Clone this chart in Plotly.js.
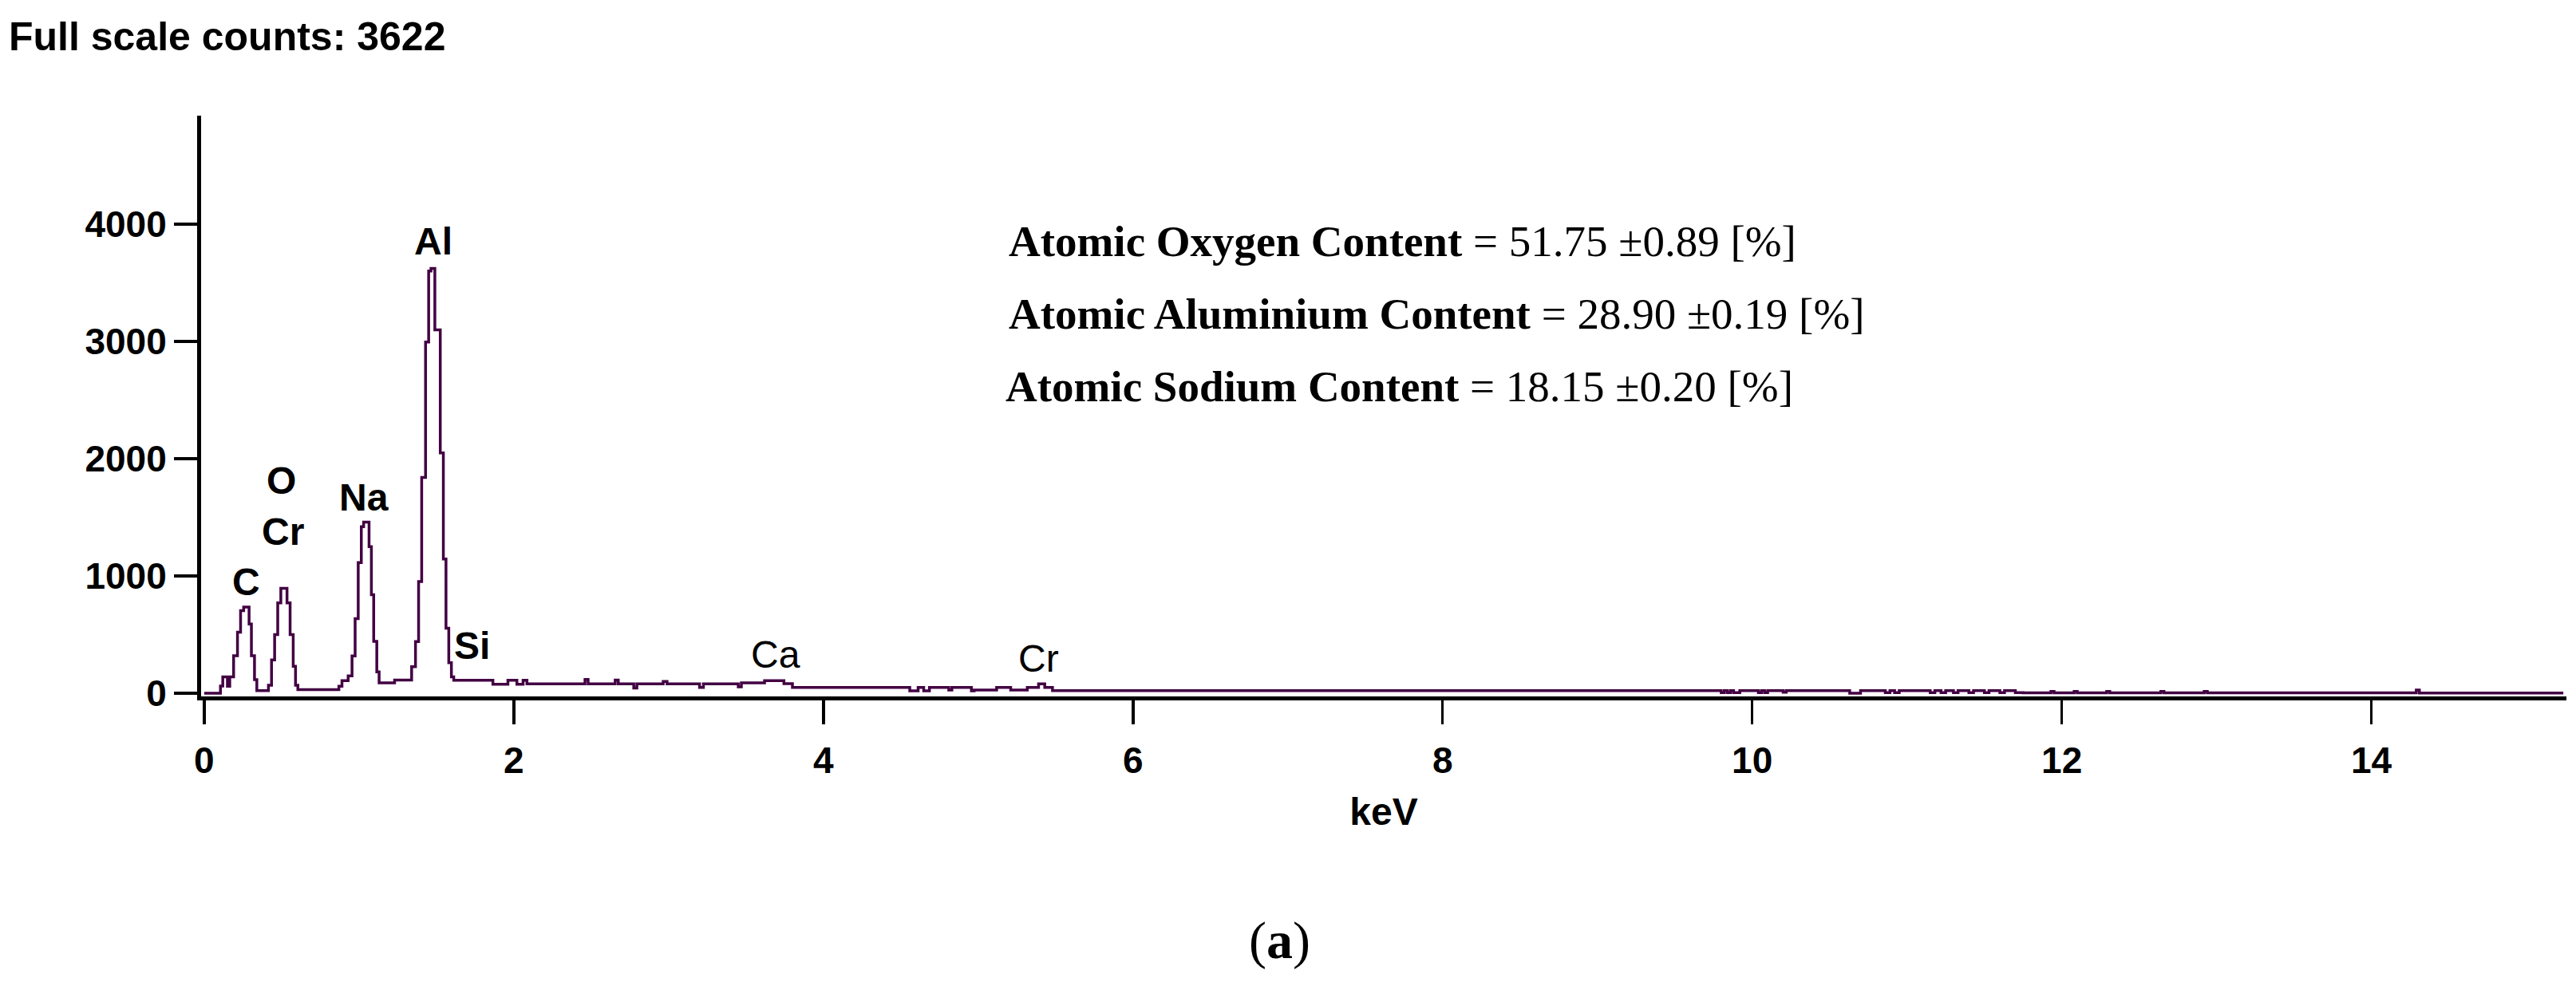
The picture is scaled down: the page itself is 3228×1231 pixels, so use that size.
<!DOCTYPE html>
<html>
<head>
<meta charset="utf-8">
<script src="https://cdn.plot.ly/plotly-3.0.1.min.js"></script>
<style>
  html, body { margin: 0; padding: 0; background: #fff; }
  #eds { width: 3228px; height: 1231px; }
</style>
</head>
<body>
<div id="eds"></div>
<script>
// EDS spectrum: each count holds until the next energy
let keV = [
  0.00, 0.105, 0.12, 0.15, 0.165, 0.19, 0.215, 0.235, 0.255, 0.29,
  0.305, 0.325, 0.34, 0.415, 0.435, 0.455, 0.475, 0.495, 0.535, 0.555,
  0.575, 0.59, 0.605, 0.87, 0.89, 0.93, 0.955, 0.975, 0.995, 1.015,
  1.03, 1.065, 1.08, 1.095, 1.115, 1.13, 1.23, 1.34, 1.365, 1.385,
  1.405, 1.43, 1.45, 1.465, 1.49, 1.525, 1.545, 1.562, 1.58, 1.597,
  1.612, 1.865, 1.962, 2.02, 2.06, 2.085, 2.46, 2.48, 2.655, 2.675,
  2.775, 2.795, 2.965, 2.99, 3.2, 3.225, 3.45, 3.47, 3.62, 3.745,
  3.80, 4.558, 4.612, 4.648, 4.685, 4.81, 4.83, 4.956, 4.974, 5.119,
  5.21, 5.317, 5.39, 5.43, 5.48, 9.80, 9.82, 9.84, 9.86, 9.88,
  9.92, 9.95, 10.04, 10.06, 10.08, 10.10, 10.12, 10.20, 10.22, 10.63,
  10.70, 10.86, 10.89, 10.92, 10.95, 10.99, 11.15, 11.18, 11.22, 11.25,
  11.30, 11.33, 11.40, 11.43, 11.50, 11.53, 11.60, 11.63, 11.70, 11.75,
  11.93, 11.95, 12.08, 12.10, 12.29, 12.31, 12.64, 12.66, 12.92, 12.94,
  14.29, 14.31, 15.24
];
let counts = [
  0, 61, 140, 60, 140, 320, 520, 705, 735, 590,
  320, 115, 22, 68, 285, 500, 770, 895, 770, 500,
  230, 68, 30, 60, 108, 148, 318, 636, 1114, 1420,
  1460, 1250, 841, 443, 182, 88, 112, 227, 440, 953,
  1840, 2995, 3600, 3622, 3099, 2050, 1145, 555, 260, 140,
  110, 76, 110, 76, 110, 80, 118, 80, 112, 80,
  45, 80, 100, 80, 50, 80, 55, 88, 107, 81,
  50, 20, 50, 20, 50, 27, 50, 20, 27, 50,
  27, 50, 80, 50, 23, 5, 23, 5, 23, 5,
  23, 23, 5, 23, 5, 23, 23, 8, 23, 0,
  23, 5, 23, 5, 23, 23, 5, 23, 5, 23,
  5, 23, 5, 23, 5, 23, 5, 23, 5, 3,
  15, 3, 15, 3, 15, 3, 15, 3, 15, 3,
  27, 2, 2
];

// peak labels
let peakNames = ['C', 'O', 'Cr', 'Na', 'Al', 'Si', 'Ca', 'Cr'];
let peakKeV = [0.273, 0.50, 0.51, 1.03, 1.48, 1.73, 3.69, 5.39];
let peakY = [950, 1816, 1381, 1673, 3857, 408, 333, 299];
let peakBold = [true, true, true, true, true, true, false, false];

// composition box
let elements = ['Oxygen', 'Aluminium', 'Sodium'];
let contents = ['51.75', '28.90', '18.15'];
let errors = ['0.89', '0.19', '0.20'];

let xTicks = [0, 2, 4, 6, 8, 10, 12, 14];
let yTicks = [0, 1000, 2000, 3000, 4000];
let fullScale = 3622;

let sans = 'Liberation Sans, Arial, sans-serif';
let serif = 'Liberation Serif, Times New Roman, serif';

let spectrum = {
  x: keV,
  y: counts,
  mode: 'lines',
  line: {color: '#420042', width: 3.5, shape: 'hv'},
  hoverinfo: 'skip'
};

let notes = [];
for (let i = 0; i < peakNames.length; i++) {
  notes.push({
    x: peakKeV[i], y: peakY[i], xref: 'x', yref: 'y',
    text: peakBold[i] ? '<b>' + peakNames[i] + '</b>' : peakNames[i],
    showarrow: false, xanchor: 'center', yanchor: 'middle',
    font: {family: sans, size: 48, color: '#000'}
  });
}
let boxX = [0.3408, 0.3408, 0.3394];
let boxY = [0.783, 0.659, 0.534];
for (let i = 0; i < elements.length; i++) {
  notes.push({
    x: boxX[i], y: boxY[i], xref: 'paper', yref: 'paper',
    text: '<b>Atomic ' + elements[i] + ' Content</b> = ' + contents[i] + ' ±' + errors[i] + ' [%]',
    showarrow: false, xanchor: 'left', yanchor: 'middle',
    font: {family: serif, size: 55, color: '#000'}
  });
}
notes.push({
  x: 0.456, y: -0.42, xref: 'paper', yref: 'paper',
  text: '(<b>a</b>)', showarrow: false, xanchor: 'center', yanchor: 'middle',
  font: {family: serif, size: 66, color: '#000'}
});

let layout = {
  width: 3228,
  height: 1231,
  paper_bgcolor: '#fff',
  plot_bgcolor: '#fff',
  showlegend: false,
  margin: {l: 252, r: 12, t: 145, b: 358, pad: 0},
  title: {
    text: '<b>Full scale counts: ' + fullScale + '</b>',
    xref: 'container', yref: 'container',
    x: 11 / 3228, xanchor: 'left',
    y: 1 - 45 / 1231, yanchor: 'middle',
    font: {family: sans, size: 50, color: '#000'}
  },
  xaxis: {
    range: [-0.02, 15.26],
    tickvals: xTicks,
    ticktext: xTicks.map(String),
    ticks: 'outside', ticklen: 30, tickwidth: 3.5, tickcolor: '#000',
    ticklabelstandoff: 6,
    showline: true, linewidth: 5, linecolor: '#000',
    showgrid: false, zeroline: false,
    tickfont: {family: sans, size: 46, color: '#000', weight: 'bold'},
    title: {text: '<b>keV</b>', standoff: 24, font: {family: sans, size: 48, color: '#000'}}
  },
  yaxis: {
    range: [-27, 4925],
    tickvals: yTicks,
    ticktext: yTicks.map(String),
    ticks: 'outside', ticklen: 29, tickwidth: 4, tickcolor: '#000',
    showline: true, linewidth: 5, linecolor: '#000',
    showgrid: false, zeroline: false,
    tickfont: {family: sans, size: 46, color: '#000', weight: 'bold'}
  },
  annotations: notes
};

Plotly.newPlot('eds', [spectrum], layout, {displayModeBar: false, staticPlot: true});
</script>
</body>
</html>
